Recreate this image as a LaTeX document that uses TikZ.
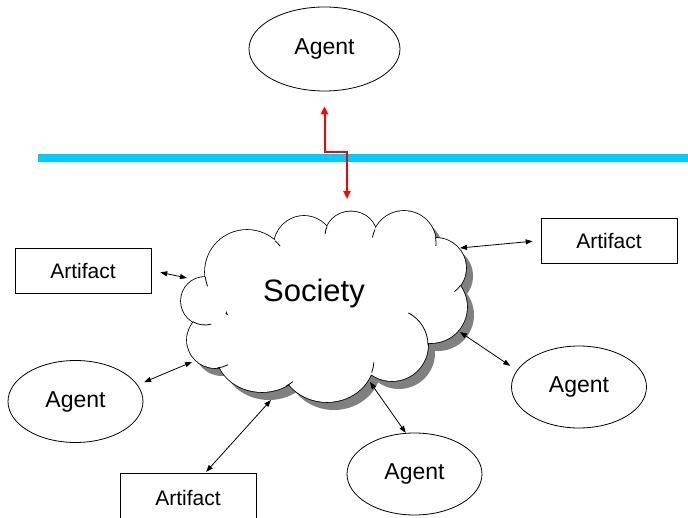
\documentclass[tikz,border=0pt]{standalone}
\usepackage{fontspec}
\setmainfont{Liberation Sans}
\usepackage{xcolor}
\usetikzlibrary{shapes.geometric,arrows.meta}

\definecolor{busblue}{RGB}{0,204,255}
\definecolor{shadowgray}{RGB}{128,128,128}

\tikzset{
  agent/.style={draw, ellipse, inner sep=0pt, minimum width=135pt, minimum height=82pt, font=\fontsize{23}{27}\selectfont},
  artifact/.style={draw, rectangle, inner sep=0pt, minimum width=136pt, minimum height=45pt, font=\fontsize{21}{25}\selectfont},
  link/.style={{Triangle[length=7pt,width=5pt]}-{Triangle[length=7pt,width=5pt]}},
  redlink/.style={red, line width=2pt, {Triangle[length=8pt,width=7pt]}-{Triangle[length=8pt,width=7pt]}}
}

\begin{document}
\begin{tikzpicture}[x=1pt,y=-1pt,line width=0.8pt]
    \useasboundingbox (0,0) rectangle (688,518);

    % Boundary
    \draw [busblue, line width=8pt] (38,158) -- (692,158);

    % Cloud shadow
    \foreach \cx/\cy/\rx/\ry in {205/301/24/24, 215/340/28/28, 262/352/46/40, 327/359.5/47/42.5,
        392/345/36/36, 431/307/36/36, 436/268/30/30, 404/243/32/32, 351/236/26/24.5,
        304/246/30/30, 247/272/42/42, 325/300/100/60}
        \fill [shadowgray] ([shift={(7,8)}]\cx,\cy) ellipse [x radius=\rx, y radius=\ry];

    % Cloud puffs
    \foreach \cx/\cy/\rx/\ry in {205/301/24/24, 215/340/28/28, 262/352/46/40, 327/359.5/47/42.5,
        392/345/36/36, 431/307/36/36, 436/268/30/30, 404/243/32/32, 351/236/26/24.5,
        304/246/30/30, 247/272/42/42}
        \draw [line width=1.6pt] (\cx,\cy) ellipse [x radius=\rx, y radius=\ry];
    \foreach \cx/\cy/\rx/\ry in {205/301/24/24, 215/340/28/28, 262/352/46/40, 327/359.5/47/42.5,
        392/345/36/36, 431/307/36/36, 436/268/30/30, 404/243/32/32, 351/236/26/24.5,
        304/246/30/30, 247/272/42/42, 325/300/100/60}
        \fill [white] (\cx,\cy) ellipse [x radius=\rx, y radius=\ry];

    % Inner puff ends
    \draw ([shift={(-120:24pt)}]205,301) arc [start angle=-120, end angle=-75, radius=24pt];
    \draw ([shift={(-85:28pt)}]215,340) arc [start angle=-85, end angle=-62, radius=28pt];
    \draw ([shift={(-58:46pt and 40pt)}]262,352) arc [start angle=-58, end angle=-48, x radius=46pt, y radius=40pt];
    \draw ([shift={(-18:47pt and 42.5pt)}]327,359.5) arc [start angle=-18, end angle=-4, x radius=47pt, y radius=42.5pt];
    \draw ([shift={(0:36pt)}]392,345) arc [start angle=0, end angle=63, radius=36pt];
    \draw ([shift={(-35:30pt)}]436,268) arc [start angle=-35, end angle=-52, radius=30pt];
    \draw ([shift={(10:32pt)}]404,243) arc [start angle=10, end angle=-5, radius=32pt];
    \draw ([shift={(155:32pt)}]404,243) arc [start angle=155, end angle=170, radius=32pt];
    \draw ([shift={(157:26pt and 24.5pt)}]351,236) arc [start angle=157, end angle=175, x radius=26pt, y radius=24.5pt];
    \draw ([shift={(48:42pt)}]247,272) arc [start angle=48, end angle=38, radius=42pt];
    \draw ([shift={(187:42pt)}]247,272) arc [start angle=187, end angle=200, radius=42pt];

    % Agents and artifacts
    \node [agent, minimum width=151pt, minimum height=84pt] (agT) at (324.5,49) {Agent};
    \node [artifact] (artL) at (83,270.5) {Artifact};
    \node [artifact] (artR) at (609,240.5) {Artifact};
    \node [artifact, minimum height=49pt] (artB) at (188,497.5) {Artifact};
    \node [agent] (agL) at (75.5,401.5) {Agent};
    \node [agent] (agR) at (579,387) {Agent};
    \node [agent] (agB) at (414.5,474) {Agent};
    \node [font=\fontsize{31}{36}\selectfont] (society) at (314,293.5) {Society};

    % Rim points of the cloud
    \coordinate (rimTop) at (347,199);
    \coordinate (rimArtL) at (187,278);
    \coordinate (rimAgL) at (192,362);
    \coordinate (rimArtB) at (271,400);
    \coordinate (rimAgB) at (370,382);
    \coordinate (rimAgR) at (460,332);
    \coordinate (rimArtR) at (460,248);
    \coordinate (jog) at (335,152);

    % Links
    \draw [redlink, shorten <=15pt] (agT.south) |- (jog) -| (rimTop);
    \draw [link, shorten <=9pt] (artL.east) -- (rimArtL);
    \draw [link, shorten <=7pt] (agL.15) -- (rimAgL);
    \draw [link, shorten <=1pt] (artB.55) -- (rimArtB);
    \draw [link] (agB.102) -- (rimAgB);
    \draw [link, shorten <=8pt] (agR.165) -- (rimAgR);
    \draw [link, shorten <=8pt] (artR.west) -- (rimArtR);
\end{tikzpicture}
\end{document}
